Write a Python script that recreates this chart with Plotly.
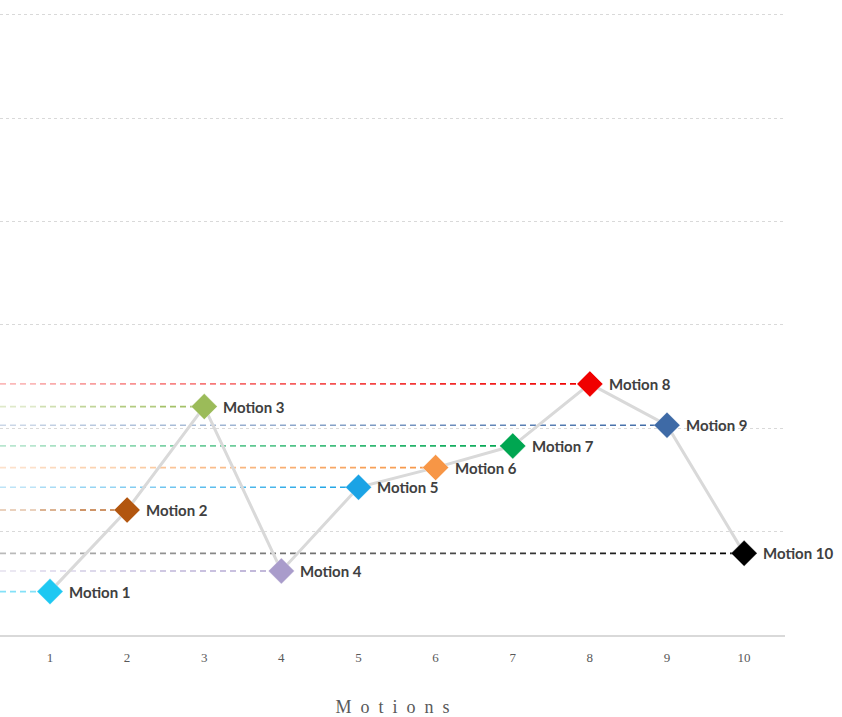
import plotly.graph_objects as go

# Motion sequence data
motions = [1, 2, 3, 4, 5, 6, 7, 8, 9, 10]
labels = ["Motion 1", "Motion 2", "Motion 3", "Motion 4", "Motion 5",
          "Motion 6", "Motion 7", "Motion 8", "Motion 9", "Motion 10"]
values = [4.2, 12.1, 22.1, 6.2, 14.3, 16.2, 18.3, 24.3, 20.3, 7.9]
colors = ["#1EC8F2", "#B2560F", "#9BBB59", "#A99CCB", "#1BA3E5",
          "#F79646", "#00A651", "#F00000", "#3E6AA6", "#000000"]

WIDTH, HEIGHT = 842, 717
MARGIN = dict(l=0, r=57, t=10, b=82)
X_MIN, X_MAX = 0.352, 10.53
Y_MIN, Y_MAX = 0, 60.48

PLOT_W = WIDTH - MARGIN["l"] - MARGIN["r"]
PX_PER_X = PLOT_W / (X_MAX - X_MIN)


def hex_to_rgb(h):
    h = h.lstrip("#")
    return tuple(int(h[i:i + 2], 16) for i in (0, 2, 4))


fig = go.Figure()

# Dashed leader lines from the left edge to each marker, fading toward the left.
# Segments are a whole number of dash periods long so the pattern stays continuous.
DASH, GAP = 6, 4
SEG_PX = (DASH + GAP) * 4
shapes = []
for x, y, c in zip(motions, values, colors):
    r, g, b = hex_to_rgb(c)
    total_px = (x - X_MIN) * PX_PER_X
    start = 0.0
    while start < total_px:
        end = min(start + SEG_PX, total_px)
        frac = (start + end) / 2 / total_px
        alpha = 0.25 + 0.75 * frac
        shapes.append(dict(
            type="line", xref="x", yref="y",
            x0=X_MIN + start / PX_PER_X, x1=X_MIN + end / PX_PER_X,
            y0=y, y1=y,
            line=dict(color=f"rgba({r},{g},{b},{alpha:.3f})", width=1.6,
                      dash=f"{DASH}px,{GAP}px"),
            layer="below",
        ))
        start = end

# Connecting line
fig.add_trace(go.Scatter(
    x=motions, y=values, mode="lines",
    line=dict(color="#D9D9D9", width=3),
    hoverinfo="skip", showlegend=False,
))

# Diamond markers
fig.add_trace(go.Scatter(
    x=motions, y=values, mode="markers",
    marker=dict(symbol="diamond", size=20, color=colors,
                line=dict(color="rgba(255,255,255,0.35)", width=1)),
    cliponaxis=False, showlegend=False,
))

# Point labels
annotations = [
    dict(x=x, y=y, xref="x", yref="y", text=t, showarrow=False,
         xanchor="left", yanchor="middle", xshift=17,
         font=dict(family="Lato", size=15, color="#404040", weight="bold"))
    for x, y, t in zip(motions, values, labels)
]

fig.update_layout(
    width=WIDTH, height=HEIGHT,
    margin=MARGIN,
    paper_bgcolor="white", plot_bgcolor="white",
    shapes=shapes, annotations=annotations,
    xaxis=dict(
        range=[X_MIN, X_MAX],
        tickmode="array", tickvals=motions, ticktext=[str(m) for m in motions],
        tickfont=dict(family="Liberation Serif", size=13, color="#595959"),
        showgrid=False, zeroline=False,
        showline=True, linecolor="#D9D9D9", linewidth=1.5,
        ticks="", ticklabelstandoff=10,
        title=dict(text="M\u2002o\u2002t\u2002i\u2002o\u2002n\u2002s",
                   font=dict(family="Liberation Serif", size=18, color="#595959"),
                   standoff=40),
    ),
    yaxis=dict(
        range=[Y_MIN, Y_MAX],
        tickmode="linear", tick0=0, dtick=10,
        showticklabels=False, ticks="",
        showgrid=True, gridcolor="#D9D9D9", gridwidth=1, griddash="dot",
        zeroline=False, showline=False,
    ),
)

fig.write_html("out.html")
